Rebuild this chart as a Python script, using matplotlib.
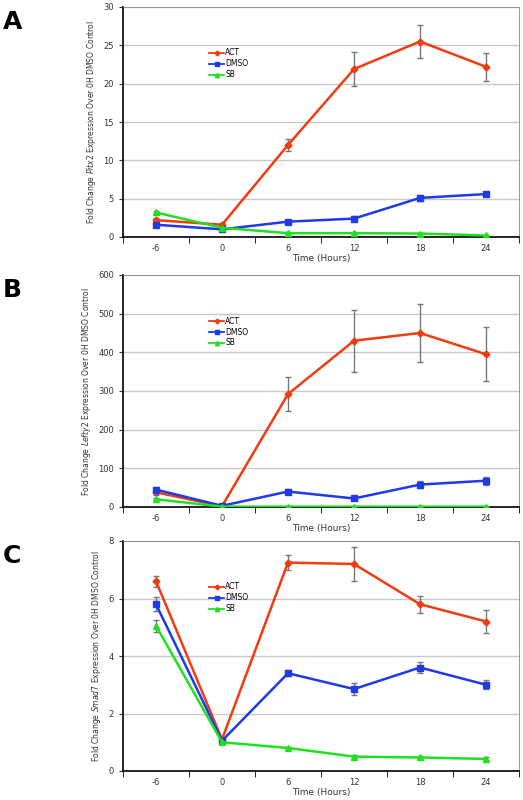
import matplotlib
matplotlib.use("Agg")
import matplotlib.pyplot as plt
from matplotlib.lines import Line2D
import numpy as np

times = ["-6", "0", "6", "12", "18", "24"]
panel_letters = ["A", "B", "C"]
genes = ["Pitx2", "Lefty2", "Smad7"]
ymax = [30, 600, 8]
ystep = [5, 100, 2]

act_A = [2.2, 1.6, 12.0, 21.9, 25.5, 22.2]
act_A_err = [0.3, 0.2, 0.8, 2.2, 2.1, 1.8]
dmso_A = [1.6, 1.0, 2.0, 2.4, 5.1, 5.6]
dmso_A_err = [0.3, 0.2, 0.2, 0.3, 0.4, 0.3]
sb_A = [3.2, 1.2, 0.5, 0.5, 0.45, 0.2]
sb_A_err = [0.2, 0.1, 0.1, 0.1, 0.1, 0.05]

act_B = [38, 2, 292, 430, 450, 395]
act_B_err = [6, 1, 45, 80, 75, 70]
dmso_B = [45, 3, 40, 22, 58, 68]
dmso_B_err = [8, 2, 6, 4, 8, 10]
sb_B = [20, 1, 1, 1, 1, 1]
sb_B_err = [3, 0.5, 0.5, 0.5, 0.5, 0.5]

act_C = [6.6, 1.1, 7.25, 7.2, 5.8, 5.2]
act_C_err = [0.2, 0.1, 0.25, 0.6, 0.3, 0.4]
dmso_C = [5.8, 1.05, 3.4, 2.85, 3.6, 3.0]
dmso_C_err = [0.25, 0.1, 0.1, 0.2, 0.2, 0.15]
sb_C = [5.05, 1.0, 0.8, 0.5, 0.47, 0.42]
sb_C_err = [0.2, 0.05, 0.05, 0.05, 0.05, 0.05]

data = [
    (act_A, act_A_err, dmso_A, dmso_A_err, sb_A, sb_A_err),
    (act_B, act_B_err, dmso_B, dmso_B_err, sb_B, sb_B_err),
    (act_C, act_C_err, dmso_C, dmso_C_err, sb_C, sb_C_err),
]
names = ["ACT", "DMSO", "SB"]
colors = ["#f03c10", "#1f3ae8", "#20e020"]
markers = ["D", "s", "^"]
msizes = [3.5, 5, 4.5]

fig = plt.figure(figsize=(5.23, 8.0), dpi=100)
W, H = 523, 800
tops = [7, 275, 541]
bottoms = [237, 507, 771]
x = np.arange(len(times))
for i in range(3):
    ax = fig.add_axes([123 / W, 1 - bottoms[i] / H, (519 - 123) / W, (bottoms[i] - tops[i]) / H])
    d = data[i]
    for k in range(3):
        ax.errorbar(x, d[2 * k], yerr=d[2 * k + 1], color=colors[k], marker=markers[k],
                    ms=msizes[k], lw=1.8, ecolor="#777777", elinewidth=1, capsize=2,
                    zorder=3)
    ax.set_xlim(-0.5, 5.5)
    ax.set_ylim(0, ymax[i])
    ax.set_yticks(np.arange(0, ymax[i] + 0.001, ystep[i]))
    ax.set_xticks(x)
    ax.set_xticklabels(times)
    ax.set_xticks(np.arange(-0.5, 5.6, 1), minor=True)
    ax.tick_params(axis="x", which="major", length=0, labelsize=6, colors="#333333", pad=5)
    ax.tick_params(axis="x", which="minor", length=4, direction="out")
    ax.tick_params(axis="y", labelsize=6, length=3, colors="#333333")
    ax.grid(axis="y", color="#c8c8c8", lw=1)
    ax.set_axisbelow(True)
    for s in ["top", "right"]:
        ax.spines[s].set_color("#888888")
        ax.spines[s].set_linewidth(0.6)
    for s in ["left", "bottom"]:
        ax.spines[s].set_linewidth(1.2)
    ax.set_xlabel("Time (Hours)", fontsize=6.5, labelpad=1, color="#333333")
    ax.set_ylabel("Fold Change $\\it{" + genes[i] + "}$ Expression Over 0H DMSO Control",
                  fontsize=5.5, color="#333333")
    handles = [Line2D([], [], color=colors[k], marker=markers[k], ms=msizes[k] * 0.7, lw=1.3)
               for k in range(3)]
    ax.legend(handles, names, loc="upper left", bbox_to_anchor=(0.2, 0.85), frameon=False,
              fontsize=5.5, handlelength=2, labelspacing=0.25, handletextpad=0.1)
    fig.text(3 / W, 1 - (tops[i] + 22) / H, panel_letters[i], fontsize=18, fontweight="bold")
fig.savefig("out.png", dpi=100)
